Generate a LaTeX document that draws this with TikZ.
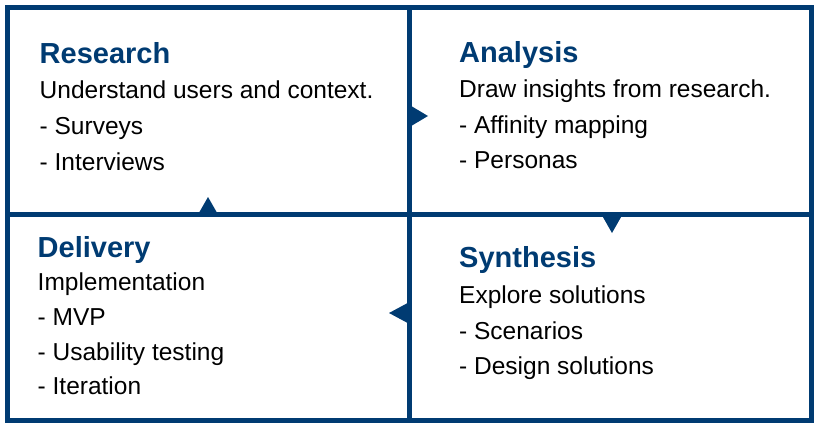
\documentclass[tikz,border=0pt]{standalone}
\usepackage{fontspec}
\setmainfont{Liberation Sans}
\definecolor{navy}{RGB}{0,59,114}
\tikzset{
  frame/.style={draw=navy, line width=5pt},
  marker/.style={fill=navy, draw=none},
  title/.style={anchor=base west, inner sep=0pt, text=navy,
    font=\fontsize{29}{34}\selectfont\bfseries},
  body/.style={anchor=base west, inner sep=0pt, text=black,
    font=\fontsize{24.5}{30}\selectfont},
}
\begin{document}
\begin{tikzpicture}[x=1pt,y=-1pt]
  \useasboundingbox (0,0) rectangle (820,431);
  % grid of four phases
  \draw[frame] (7.5,7) rectangle (811,420.5);
  \draw[frame] (409.5,7) -- (409.5,420.5);
  \draw[frame] (7.5,214.5) -- (811,214.5);
  % flow markers between phases
  \fill[marker] (409.5,105) -- (428,116) -- (409.5,127) -- cycle;
  \fill[marker] (601.5,214.5) -- (612,233) -- (622.5,214.5) -- cycle;
  \fill[marker] (409.5,302) -- (389,313) -- (409.5,324) -- cycle;
  \fill[marker] (198,214.5) -- (208,197) -- (218,214.5) -- cycle;
  % Research
  \node[title] (rt) at (39.5,63) {Research};
  \node[body] (r1) at (39.5,98.5) {Understand users and context.};
  \node[body] (r2) at (39.5,134.5) {- Surveys};
  \node[body] (r3) at (39.5,170) {- Interviews};
  % Analysis
  \node[title] (at) at (459,62) {Analysis};
  \node[body] (a1) at (459,97.5) {Draw insights from research.};
  \node[body] (a2) at (459,133) {- Affinity mapping};
  \node[body] (a3) at (459,168) {- Personas};
  % Synthesis
  \node[title] (st) at (459,267) {Synthesis};
  \node[body] (s1) at (459,303.5) {Explore solutions};
  \node[body] (s2) at (459,339.5) {- Scenarios};
  \node[body] (s3) at (459,374) {- Design solutions};
  % Delivery
  \node[title] (dt) at (37.5,257.5) {Delivery};
  \node[body] (d1) at (37.5,290.5) {Implementation};
  \node[body] (d2) at (37.5,325) {- MVP};
  \node[body] (d3) at (37.5,360) {- Usability testing};
  \node[body] (d4) at (37.5,394) {- Iteration};
\end{tikzpicture}
\end{document}
